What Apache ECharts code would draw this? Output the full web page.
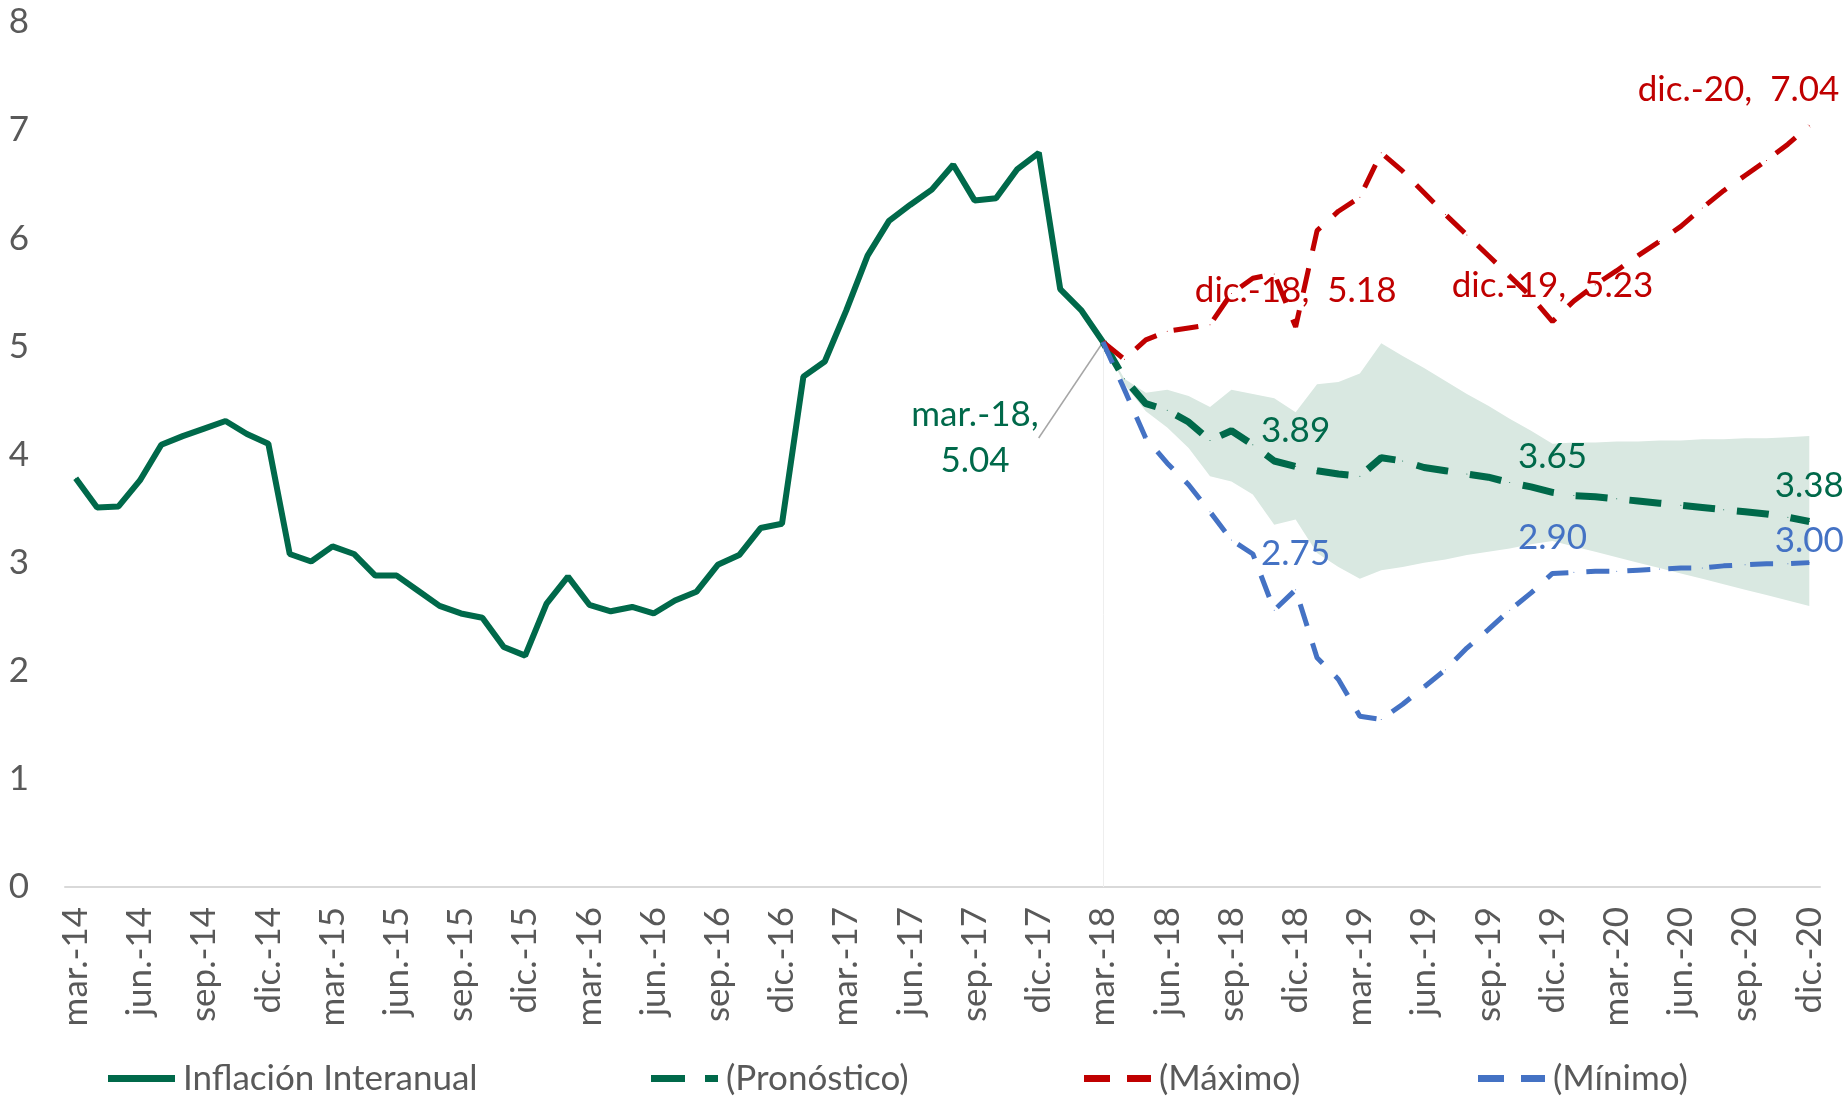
<!DOCTYPE html>
<html lang="es">
<head>
<meta charset="UTF-8">
<title>Inflación Interanual</title>
<script src="https://cdn.jsdelivr.net/npm/echarts@6/dist/echarts.min.js"></script>
<style>
  html, body { margin: 0; padding: 0; background: #fff; }
  #main { width: 1843px; height: 1096px; }
</style>
</head>
<body>
<div id="main"></div>
<script>
// categorias mensuales mar.-14 ... dic.-20
var meses = ['ene.', 'feb.', 'mar.', 'abr.', 'may.', 'jun.', 'jul.', 'ago.', 'sep.', 'oct.', 'nov.', 'dic.']
var categorias = []
for (var a = 14; a <= 20; a++) {
  for (var m = 0; m < 12; m++) {
    if (a === 14 && m < 2) continue
    categorias.push(meses[m] + '-' + a)
  }
}

// historico mar.-14 .. mar.-18
var inflacion = [3.78, 3.51, 3.52, 3.76, 4.09, 4.17, 4.24, 4.31, 4.19, 4.10,
  3.08, 3.01, 3.15, 3.08, 2.88, 2.88, 2.74, 2.60, 2.53, 2.49, 2.22, 2.14,
  2.62, 2.87, 2.61, 2.55, 2.59, 2.53, 2.65, 2.73, 2.98, 3.07, 3.32, 3.36,
  4.72, 4.86, 5.33, 5.84, 6.16, 6.31, 6.45, 6.68, 6.35, 6.37, 6.64, 6.79,
  5.53, 5.33, 5.04]

// proyecciones mar.-18 .. dic.-20
var pronostico = [5.04, 4.70, 4.47, 4.41, 4.30, 4.13, 4.22, 4.09, 3.94, 3.89,
  3.85, 3.82, 3.80, 3.97, 3.94, 3.88, 3.85, 3.82, 3.79, 3.74, 3.70, 3.65,
  3.62, 3.61, 3.59, 3.57, 3.55, 3.53, 3.51, 3.49, 3.47, 3.45, 3.42, 3.38]
var maximo = [5.04, 4.88, 5.06, 5.14, 5.17, 5.20, 5.49, 5.63, 5.67, 5.18,
  6.07, 6.25, 6.38, 6.79, 6.62, 6.42, 6.22, 6.03, 5.84, 5.65, 5.46, 5.23,
  5.42, 5.57, 5.70, 5.84, 5.97, 6.11, 6.28, 6.44, 6.58, 6.72, 6.87, 7.04]
var minimo = [5.04, 4.60, 4.15, 3.92, 3.72, 3.47, 3.21, 3.08, 2.56, 2.75,
  2.12, 1.92, 1.58, 1.55, 1.69, 1.85, 2.01, 2.21, 2.38, 2.56, 2.72, 2.90,
  2.91, 2.92, 2.92, 2.93, 2.94, 2.95, 2.95, 2.97, 2.98, 2.99, 2.99, 3.00]
// banda de confianza
var bandaSup = [5.04, 4.70, 4.57, 4.60, 4.54, 4.44, 4.60, 4.56, 4.52, 4.39,
  4.65, 4.67, 4.75, 5.03, 4.91, 4.80, 4.68, 4.56, 4.45, 4.33, 4.22, 4.10,
  4.11, 4.11, 4.12, 4.12, 4.13, 4.13, 4.14, 4.14, 4.15, 4.15, 4.16, 4.17]
var bandaInf = [5.04, 4.65, 4.40, 4.25, 4.06, 3.80, 3.75, 3.63, 3.35, 3.40,
  3.09, 2.96, 2.85, 2.93, 2.96, 3.00, 3.03, 3.07, 3.10, 3.13, 3.17, 3.20,
  3.15, 3.10, 3.05, 3.00, 2.95, 2.90, 2.85, 2.80, 2.75, 2.70, 2.65, 2.60]

var etiquetas = ['dic.-18', 'dic.-19', 'dic.-20'] // puntos con etiqueta

var VERDE = '#00694A', ROJO = '#C00000', AZUL = '#4472C4', GRIS = '#595959'
var FUENTE = 'Lato', TAM = 35
var inicio = inflacion.length - 1 // mar.-18
var relleno = new Array(inicio).fill(null)

function conEtiquetas(valores, extra) {
  return relleno.concat(valores).map(function (v, i) {
    if (etiquetas.indexOf(categorias[i]) < 0) return v
    var it = { value: v, label: { show: true } }
    if (extra && extra[categorias[i]]) it.label = Object.assign({ show: true }, extra[categorias[i]])
    return it
  })
}

// iconos de leyenda (linea continua / trazos)
var iconos = {
  'Inflación Interanual': 'path://M0,0H67V7H0Z',
  '(Pronóstico)': 'path://M0,0H34V7H0Z M54,0H67V7H54Z',
  '(Máximo)': 'path://M0,0H26V7H0Z M43,0H67V7H43Z',
  '(Mínimo)': 'path://M0,0H26V7H0Z M43,0H67V7H43Z'
}

var mChart = echarts.init(document.getElementById('main'))

var lineaBase = {
  type: 'line', symbol: 'circle', symbolSize: 1, showSymbol: true, showAllSymbol: true
}

var option = {
  animation: false,
  textStyle: { fontFamily: FUENTE },
  grid: { left: 65, right: 23, top: 22, bottom: 209 },
  xAxis: {
    type: 'category',
    data: categorias,
    boundaryGap: true,
    axisLine: { lineStyle: { color: '#D9D9D9', width: 2 } },
    axisTick: { show: false },
    axisLabel: { interval: 2, rotate: 90, margin: 20, color: GRIS, fontSize: TAM, fontFamily: FUENTE }
  },
  yAxis: {
    type: 'value',
    min: 0, max: 8, interval: 1,
    axisLine: { show: false },
    axisTick: { show: false },
    splitLine: { show: false },
    axisLabel: { color: GRIS, fontSize: TAM, margin: 36, fontFamily: FUENTE }
  },
  legend: [
    ['Inflación Interanual', 103],
    ['(Pronóstico)', 646],
    ['(Máximo)', 1079],
    ['(Mínimo)', 1473]
  ].map(function (l) {
    return {
      data: [{ name: l[0], icon: iconos[l[0]] }], left: l[1], top: 1056,
      itemWidth: 67, itemHeight: 7, itemGap: 8,
      textStyle: { color: GRIS, fontSize: TAM, fontFamily: FUENTE, padding: [0, 0, 0, 3] }
    }
  }),
  series: [
    {
      name: 'bandaInf', type: 'line', stack: 'banda', silent: true,
      data: relleno.concat(bandaInf), symbol: 'none',
      lineStyle: { width: 0, opacity: 0 }, z: 1
    },
    {
      name: 'banda', type: 'line', stack: 'banda', silent: true,
      data: relleno.concat(bandaSup.map(function (v, i) { return +(v - bandaInf[i]).toFixed(2) })),
      symbol: 'none',
      lineStyle: { width: 0, opacity: 0 },
      areaStyle: { color: '#D9E8E1', opacity: 1 }, z: 1
    },
    Object.assign({}, lineaBase, {
      name: 'Inflación Interanual',
      data: inflacion.map(function (v, i) {
        return i === inicio ? { value: v, label: { show: true } } : v
      }),
      lineStyle: { color: VERDE, width: 6 },
      itemStyle: { color: VERDE },
      label: {
        show: false, formatter: '{b},\n{c}', color: VERDE, fontSize: TAM,
        lineHeight: 46, align: 'center', fontFamily: FUENTE
      },
      labelLine: { show: true, lineStyle: { color: '#A6A6A6', width: 1.5 } },
      labelLayout: function (p) {
        if (p.dataIndex === inicio) return { x: 975, y: 438, align: 'center', verticalAlign: 'middle' }
      },
      markLine: {
        silent: true, symbol: 'none', label: { show: false },
        lineStyle: { color: '#EEEEEE', width: 1, type: 'solid' },
        data: [[{ coord: [categorias[inicio], 0] }, { coord: [categorias[inicio], inflacion[inicio]] }]]
      },
      z: 2
    }),
    Object.assign({}, lineaBase, {
      name: '(Pronóstico)',
      data: conEtiquetas(pronostico),
      lineStyle: { color: VERDE, width: 7, type: [32, 22] },
      itemStyle: { color: VERDE },
      label: {
        show: false, position: 'top', distance: 18, color: VERDE, fontSize: TAM, fontFamily: FUENTE,
        formatter: function (p) { return p.value.toFixed(2) }
      },
      z: 3
    }),
    Object.assign({}, lineaBase, {
      name: '(Máximo)',
      data: conEtiquetas(maximo, { 'dic.-20': { align: 'right', offset: [30, 0] } }),
      lineStyle: { color: ROJO, width: 5, type: [25, 18] },
      itemStyle: { color: ROJO },
      label: {
        show: false, position: 'top', distance: 18, color: ROJO, fontSize: TAM, fontFamily: FUENTE,
        formatter: function (p) { return p.name + ',  ' + p.value.toFixed(2) }
      },
      z: 4
    }),
    Object.assign({}, lineaBase, {
      name: '(Mínimo)',
      data: conEtiquetas(minimo, { 'dic.-20': { distance: 4 } }),
      lineStyle: { color: AZUL, width: 5, type: [23, 18] },
      itemStyle: { color: AZUL },
      label: {
        show: false, position: 'top', distance: 18, color: AZUL, fontSize: TAM, fontFamily: FUENTE,
        formatter: function (p) { return p.value.toFixed(2) }
      },
      z: 5
    })
  ]
}
mChart.setOption(option)
</script>
</body>
</html>
